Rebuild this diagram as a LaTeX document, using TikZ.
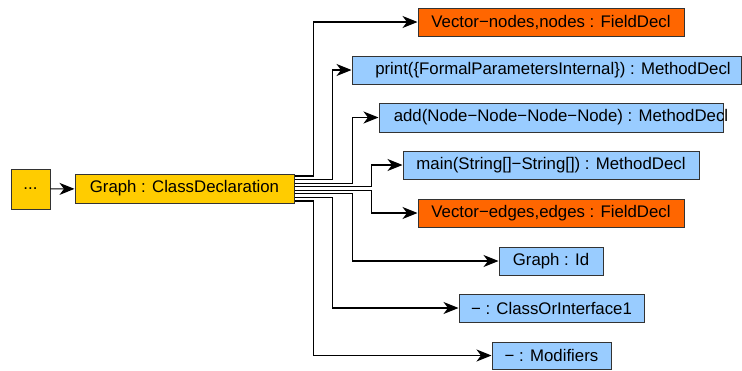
\documentclass[tikz,border=0pt]{standalone}
\usepackage{fontspec}
\setmainfont{Liberation Sans}
\usetikzlibrary{arrows.meta}
\definecolor{fieldc}{HTML}{FF6600}
\definecolor{methc}{HTML}{99CCFF}
\definecolor{classc}{HTML}{FFCC00}
\begin{document}
\begin{tikzpicture}[x=1pt,y=-1pt,
  box/.style={draw=black!80, line width=1pt, inner sep=0pt, minimum height=28pt,
    font=\fontsize{16.8}{20}\selectfont},
  field/.style={box, fill=fieldc},
  meth/.style={box, fill=methc},
  cls/.style={box, fill=classc},
  conn/.style={draw=black, line width=1.1pt, -{Stealth[length=15pt,width=12pt,inset=4.5pt]}}]
\useasboundingbox (0,0) rectangle (742,370);
\node[cls, minimum width=39pt, minimum height=40pt] (dots) at (30.5,189) {...};
\node[cls, minimum width=219pt, minimum height=29pt] (g) at (184.5,188.5) {Graph : ClassDeclaration};
\node[field, minimum width=266pt] (vn) at (551,22) {Vector−nodes,nodes : FieldDecl};
\node[meth, minimum width=389pt] (pr) at (546.5,70) {\makebox[0pt]{\hspace*{13pt}print(\{FormalParametersInternal\}) : MethodDecl}};
\node[meth, minimum width=344pt, minimum height=29pt] (ad) at (551,117.5) {\makebox[0pt]{\hspace*{20pt}add(Node−Node−Node−Node) : MethodDecl}};
\node[meth, minimum width=296pt] (mn) at (551,165) {main(String[]−String[]) : MethodDecl};
\node[field, minimum width=266pt] (ve) at (551,213) {Vector−edges,edges : FieldDecl};
\node[meth, minimum width=104pt] (id) at (551,261) {Graph : Id};
\node[meth, minimum width=185pt] (ci) at (551.5,308) {− : ClassOrInterface1};
\node[meth, minimum width=119pt, minimum height=27pt] (mo) at (551.5,355.5) {− : Modifiers};

\draw[conn] (dots) -- (g);
\draw[conn] ([yshift=12.5pt]g.east) -- ++(19,0) |- (vn.west);
\draw[conn] ([yshift=8.9pt]g.east) -- ++(38,0) |- (pr.west);
\draw[conn] ([yshift=5.4pt]g.east) -- ++(58,0) |- (ad.west);
\draw[conn] ([yshift=1.8pt]g.east) -- ++(77,0) |- (mn.west);
\draw[conn] ([yshift=-1.8pt]g.east) -- ++(77,0) |- (ve.west);
\draw[conn] ([yshift=-5.4pt]g.east) -- ++(58,0) |- (id.west);
\draw[conn] ([yshift=-8.9pt]g.east) -- ++(38,0) |- (ci.west);
\draw[conn] ([yshift=-12.5pt]g.east) -- ++(19,0) |- (mo.west);
\end{tikzpicture}
\end{document}
